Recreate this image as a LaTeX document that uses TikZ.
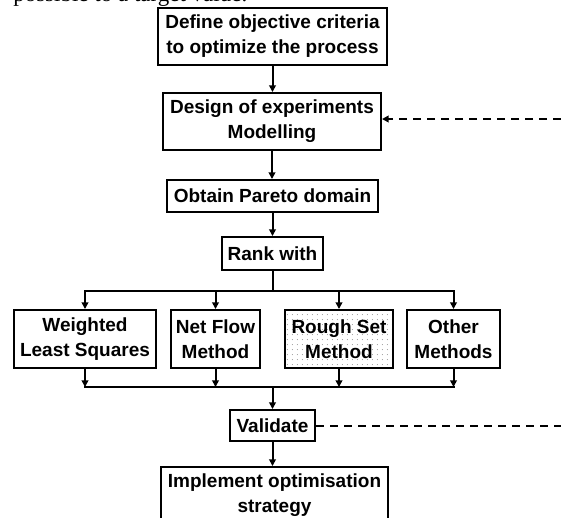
\documentclass[tikz,border=0pt]{standalone}
\usepackage{fontspec}
\setmainfont{Liberation Sans}
\newfontfamily\capserif{Liberation Serif}
\usetikzlibrary{arrows.meta,patterns.meta}
\begin{document}
\begin{tikzpicture}[x=0.75pt,y=-0.75pt,
  box/.style={draw,line width=1.5pt,font=\fontsize{14.25}{18.75}\selectfont\bfseries,align=center,inner sep=0pt},
  conn/.style={line width=1.5pt,-{Triangle[length=5pt,width=5pt]}},
  plainline/.style={line width=1.5pt,line cap=rect},
  dashline/.style={line width=1.5pt,dash pattern=on 6pt off 4.5pt}]
\useasboundingbox (0,0) rectangle (561,518);
\fill[white] (0,0) rectangle (561,518);
\node[font=\capserif\fontsize{17.25}{20}\selectfont,anchor=base west,inner sep=0pt] (cap) at (13,1) {possible to a target value.};
\node[box,minimum width=171.75pt,minimum height=42.75pt] (b1) at (272.5,36.5) {Define objective criteria\\to optimize the process};
\node[box,minimum width=163.5pt,minimum height=42.75pt] (b2) at (272,121.5) {Design of experiments\\Modelling};
\node[box,minimum width=158.25pt,minimum height=24pt] (b3) at (272.5,196) {Obtain Pareto domain};
\node[box,minimum width=75.75pt,minimum height=24.75pt] (b4) at (272.5,253.5) {Rank with};
\node[box,minimum width=106.5pt,minimum height=43.5pt] (b5) at (85,339) {Weighted\\Least Squares};
\node[box,minimum width=66.75pt,minimum height=43.5pt] (b6) at (215.5,339) {Net Flow\\Method};
\node[box,minimum width=81pt,minimum height=43.5pt,pattern={Dots[radius=0.45pt,distance=4pt]},pattern color=gray!75] (b7) at (339,339) {Rough Set\\Method};
\node[box,minimum width=69.75pt,minimum height=43.5pt] (b8) at (453.5,339) {Other\\Methods};
\node[box,minimum width=63.75pt,minimum height=23.25pt] (b9) at (272.5,425.5) {Validate};
\node[box,minimum width=170.25pt,minimum height=42.75pt] (b10) at (274.5,495.5) {Implement optimisation\\strategy};
\coordinate (br) at (272.5,291);
\coordinate (mg) at (272.5,387);
\coordinate (d1) at (561,119);
\coordinate (d2) at (561,425.5);
\draw[conn] (b1.south) -- (b1.south |- b2.north);
\draw[conn] (b2.south) -- (b2.south |- b3.north);
\draw[conn] (b3.south) -- (b3.south |- b4.north);
\draw[plainline] (b4.south) -- (br);
\draw[plainline] (b5.north |- br) -- (b8.north |- br);
\foreach \b in {b5,b6,b7,b8} {
  \draw[conn] (\b.north |- br) -- (\b.north);
  \draw[conn] (\b.south) -- (\b.south |- mg);
}
\draw[plainline] (b5.south |- mg) -- (b8.south |- mg);
\draw[conn] (mg) -- (b9.north);
\draw[conn] (b9.south) -- (b9.south |- b10.north);
\draw[dashline,-{Triangle[length=5pt,width=5pt]}] (d1) -- (b2.east |- d1);
\draw[dashline] (b9.east) -- (d2);
\end{tikzpicture}
\end{document}
